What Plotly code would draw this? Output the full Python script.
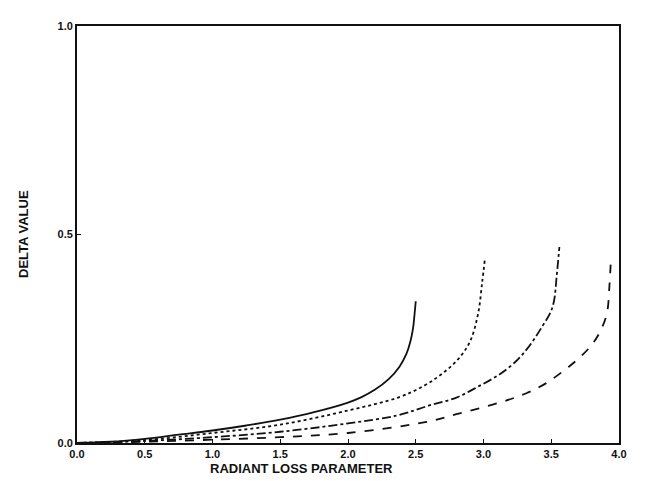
import plotly.graph_objects as go

# Curve data
solid_x = [0, 0.25, 0.5, 0.75, 1.0, 1.25, 1.5, 1.75, 2.0, 2.1, 2.2, 2.3, 2.38, 2.43, 2.46, 2.48, 2.49, 2.50]
solid_y = [0, 0.003, 0.01, 0.02, 0.03, 0.042, 0.056, 0.074, 0.097, 0.11, 0.128, 0.153, 0.183, 0.213, 0.243, 0.275, 0.305, 0.34]

dot_x = [0, 0.5, 1.0, 1.5, 2.0, 2.37, 2.56, 2.69, 2.81, 2.90, 2.96, 2.99, 3.01]
dot_y = [0, 0.007, 0.024, 0.044, 0.078, 0.109, 0.137, 0.165, 0.2, 0.243, 0.31, 0.385, 0.44]

dashdot_x = [0, 0.5, 1.0, 1.5, 2.0, 2.36, 2.60, 2.80, 2.97, 3.12, 3.24, 3.32, 3.38, 3.44, 3.49, 3.52, 3.54, 3.56]
dashdot_y = [0, 0.005, 0.014, 0.027, 0.047, 0.066, 0.09, 0.109, 0.137, 0.165, 0.196, 0.225, 0.252, 0.283, 0.31, 0.34, 0.40, 0.47]

dash_x = [0, 0.5, 1.0, 1.5, 2.0, 2.57, 2.80, 3.12, 3.32, 3.46, 3.63, 3.72, 3.80, 3.86, 3.91, 3.93, 3.94]
dash_y = [0, 0.003, 0.008, 0.014, 0.024, 0.05, 0.069, 0.097, 0.12, 0.143, 0.183, 0.208, 0.236, 0.267, 0.31, 0.38, 0.44]

x_ticks = [0, 0.5, 1.0, 1.5, 2.0, 2.5, 3.0, 3.5, 4.0]
x_labels = ["0.0", "0.5", "1.0", "1.5", "2.0", "2.5", "3.0", "3.5", "4.0"]
y_ticks = [0, 0.5, 1.0]
y_labels = ["0.0", "0.5", "1.0"]
x_title = "RADIANT LOSS PARAMETER"
y_title = "DELTA VALUE"

fig = go.Figure()
ink = "#111111"
fig.add_trace(go.Scatter(x=solid_x, y=solid_y, mode="lines", line=dict(color=ink, width=1.8, shape="spline")))
fig.add_trace(go.Scatter(x=dot_x, y=dot_y, mode="lines", line=dict(color=ink, width=1.8, dash="dot", shape="spline")))
fig.add_trace(go.Scatter(x=dashdot_x, y=dashdot_y, mode="lines", line=dict(color=ink, width=1.8, dash="dashdot", shape="spline")))
fig.add_trace(go.Scatter(x=dash_x, y=dash_y, mode="lines", line=dict(color=ink, width=1.8, dash="dash", shape="spline")))

fig.update_layout(
    width=650, height=481,
    margin=dict(l=69, r=39, t=12, b=46),
    paper_bgcolor="white", plot_bgcolor="white",
    showlegend=False,
    font=dict(family="Liberation Sans, Arial, sans-serif", size=11, color=ink),
    annotations=[
        dict(text="<b>%s</b>" % x_title, xref="paper", yref="paper", x=0.415, y=0,
             yshift=-16, xanchor="center", yanchor="top", showarrow=False, font=dict(size=13)),
        dict(text="<b>%s</b>" % y_title, xref="paper", yref="paper", x=0, y=0.5,
             xshift=-44, xanchor="right", yanchor="middle", textangle=-90, showarrow=False,
             font=dict(size=13)),
    ],
)
fig.update_xaxes(
    range=[0, 4], tickvals=x_ticks, ticktext=["<b>%s</b>" % t for t in x_labels],
    showgrid=False, zeroline=False, showline=True, linecolor=ink, linewidth=1.8, mirror=True,
    ticks="inside", ticklen=4, tickcolor=ink,
    tickfont=dict(size=11),
)
fig.update_yaxes(
    range=[0, 1], tickvals=y_ticks, ticktext=["<b>%s</b>" % t for t in y_labels],
    showgrid=False, zeroline=False, showline=True, linecolor=ink, linewidth=1.8, mirror=True,
    ticks="inside", ticklen=4, tickcolor=ink,
    tickfont=dict(size=11),
)
fig.write_html("out.html")
